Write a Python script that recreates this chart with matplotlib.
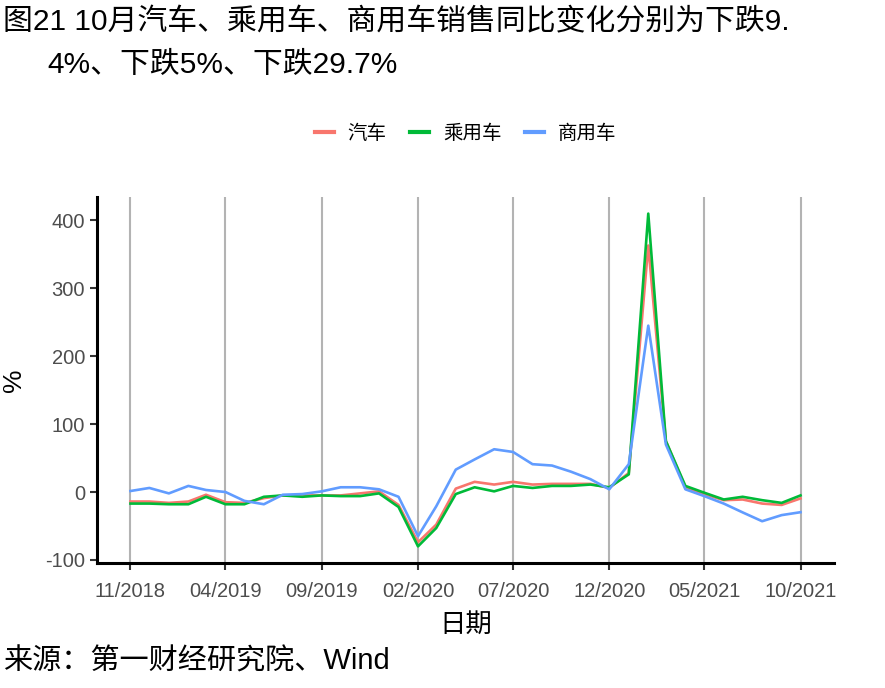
import pandas as pd
import matplotlib
matplotlib.use("Agg")
import matplotlib.pyplot as plt
import matplotlib.dates as mdates

plt.rcParams['font.family'] = ['Liberation Sans', 'Noto Sans CJK SC', 'DejaVu Sans']
plt.rcParams['axes.unicode_minus'] = False

# ===== データ =====
months = pd.date_range("2018-11-01", "2021-10-01", freq="MS")
auto = [-14, -14, -16, -14, -4, -15, -16, -9, -5, -5, -5, -5, -2, 1, -19, -74,
        -48, 5, 15, 11, 15, 11, 12, 12, 12, 6, 28, 363, 75, 7, -3, -12,
        -11, -17, -19, -9.4]
passenger = [-17, -17, -18, -18, -7, -18, -18, -7, -5, -7, -5, -6, -6, -2, -22, -80,
             -53, -3, 7, 1, 9, 6, 9, 9, 11, 7, 26, 410, 75, 9, -1, -11,
             -7, -12, -16, -5]
commercial = [1.5, 6, -2, 9, 3, 0, -13, -18, -4, -3, 1, 7, 7, 4, -7, -65,
              -21, 33, 48, 63, 59, 41, 39, 30, 19, 4, 41, 245, 70, 4, -6, -17,
              -30, -43, -34, -29.7]
series = [("汽车", auto, "#F8766D"),
          ("乘用车", passenger, "#00BA38"),
          ("商用车", commercial, "#619CFF")]
tick_dates = months[::5]

fig = plt.figure(figsize=(8.85, 6.88), dpi=100)
ax = fig.add_axes([0.1096, 0.1817, 0.8328, 0.532])

for name, vals, col in series:
    ax.plot(months, vals, color=col, lw=1.9, label=name)

span = months[-1] - months[0]
ax.set_xlim(months[0] - span * 0.05, months[-1] + span * 0.05)
ax.set_ylim(-104.5, 434.5)
ax.set_xticks(tick_dates)
ax.xaxis.set_major_formatter(mdates.DateFormatter("%m/%Y"))
ax.set_yticks([-100, 0, 100, 200, 300, 400])

ax.grid(axis="x", color="#B3B3B3", lw=1.5)
ax.set_axisbelow(True)
for s in ["top", "right"]:
    ax.spines[s].set_visible(False)
for s in ["left", "bottom"]:
    ax.spines[s].set_linewidth(2.2)
    ax.spines[s].set_color("black")
ax.tick_params(colors="#333333", width=1.5, length=5, labelsize=14.5,
               labelcolor="#4D4D4D")
ax.tick_params(axis="x", pad=9)

ax.set_xlabel("日期", fontsize=19, labelpad=8)
ax.set_ylabel("%", fontsize=19, labelpad=14)

leg = ax.legend(loc="lower center", bbox_to_anchor=(0.5, 1.10), ncol=3, frameon=False,
                fontsize=14, handlelength=1.0, handletextpad=0.7, columnspacing=1.2)
for line in leg.get_lines():
    line.set_linewidth(3)

fig.text(0.003, 0.968, "图21 10月汽车、乘用车、商用车销售同比变化分别为下跌9.",
         fontsize=21.5, va="center", ha="left")
fig.text(0.054, 0.905, "4%、下跌5%、下跌29.7%", fontsize=21.5, va="center", ha="left")
fig.text(0.003, 0.039, "来源：第一财经研究院、Wind", fontsize=21, va="center", ha="left")

fig.savefig("out.png", dpi=100)
